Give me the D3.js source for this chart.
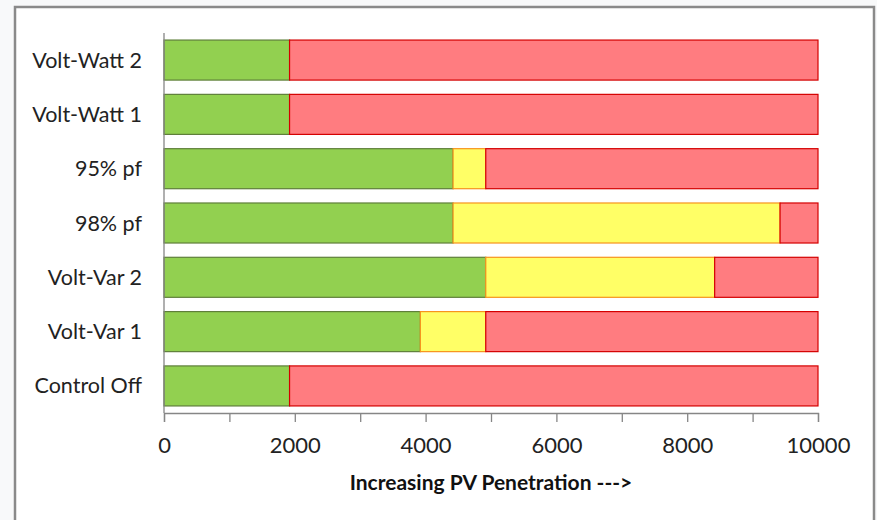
<!DOCTYPE html>
<html>
<head>
<meta charset="utf-8">
<script src="https://cdn.jsdelivr.net/npm/d3@7"></script>
<style>
  html, body { margin: 0; padding: 0; background: #f8f9fa; }
  svg { display: block; }
</style>
</head>
<body>
<svg id="chart" width="877" height="520"></svg>
<script>
// Scenarios, top to bottom
const categories = ["Volt-Watt 2", "Volt-Watt 1", "95% pf", "98% pf", "Volt-Var 2", "Volt-Var 1", "Control Off"];
// Segment lengths along the penetration axis
const acceptable = [1920, 1920, 4420, 4420, 4920, 3920, 1920];
const marginal   = [0, 0, 500, 5000, 3500, 1000, 0];
const violation  = [8080, 8080, 5080, 580, 1580, 5080, 8080];
const xTicks = [0, 1000, 2000, 3000, 4000, 5000, 6000, 7000, 8000, 9000, 10000];
const xTitle = "Increasing PV Penetration --->";

const keys = ["acceptable", "marginal", "violation"];
const fills   = { acceptable: "#92d050", marginal: "#ffff66", violation: "#ff7c80" };
const strokes = { acceptable: "#5f7f3a", marginal: "#f7941d", violation: "#d40000" };

const rows = categories.map((c, i) => ({
  cat: c, acceptable: acceptable[i], marginal: marginal[i], violation: violation[i]
}));

const svg = d3.select("#chart");
const font = "Lato, 'Open Sans', sans-serif";

// chart frame
svg.append("rect")
  .attr("x", 15).attr("y", 7).attr("width", 859).attr("height", 530)
  .attr("fill", "#ffffff").attr("stroke", "#8a8a8a").attr("stroke-width", 2.5);

const x = d3.scaleLinear().domain([0, 10000]).range([164, 818]);
const y = d3.scaleBand().domain(categories).range([33, 413])
  .paddingInner(0.263).paddingOuter(0.13);

const stacked = d3.stack().keys(keys)(rows);

svg.append("g").selectAll("g")
  .data(stacked).join("g")
  .attr("fill", d => fills[d.key])
  .attr("stroke", d => strokes[d.key])
  .attr("stroke-width", 1.2)
  .selectAll("rect")
  .data(d => d.filter(s => s[1] > s[0]))
  .join("rect")
  .attr("x", d => x(d[0]))
  .attr("width", d => x(d[1]) - x(d[0]))
  .attr("y", d => y(d.data.cat))
  .attr("height", y.bandwidth());

// x axis
const xAxis = d3.axisBottom(x)
  .tickValues(xTicks)
  .tickSize(9)
  .tickPadding(15)
  .tickFormat(v => v % 2000 === 0 ? String(v) : "");
const gx = svg.append("g").attr("transform", "translate(0,413)").call(xAxis);
gx.select(".domain").attr("stroke", "#868686").attr("stroke-width", 1.3);
gx.selectAll(".tick line").attr("stroke", "#868686").attr("stroke-width", 1.3);
gx.selectAll(".tick text")
  .attr("font-family", font).attr("font-size", 22).attr("fill", "#222");

// y axis line and category labels
svg.append("line")
  .attr("x1", x(0)).attr("x2", x(0)).attr("y1", 33).attr("y2", 413)
  .attr("stroke", "#868686").attr("stroke-width", 1.3);

svg.append("g").selectAll("text")
  .data(categories).join("text")
  .attr("x", 142)
  .attr("y", d => y(d) + y.bandwidth() / 2)
  .attr("dy", "0.35em")
  .attr("text-anchor", "end")
  .attr("font-family", font).attr("font-size", 21.5).attr("fill", "#222")
  .text(d => d);

svg.append("text")
  .attr("x", (x(0) + x(10000)) / 2)
  .attr("y", 490)
  .attr("text-anchor", "middle")
  .attr("font-family", font).attr("font-size", 21).attr("font-weight", "bold").attr("fill", "#111")
  .text(xTitle);
</script>
</body>
</html>
